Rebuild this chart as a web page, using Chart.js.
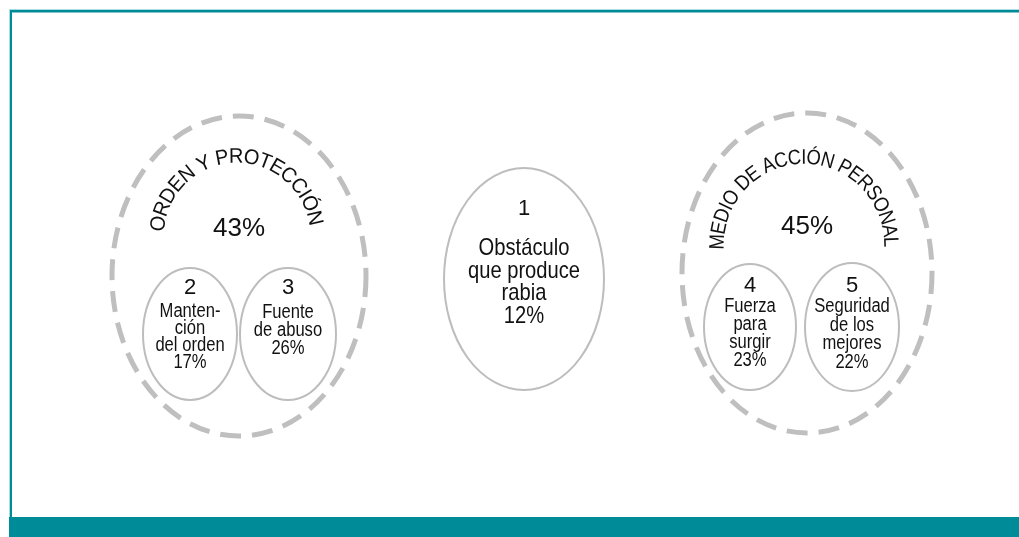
<!DOCTYPE html>
<html><head><meta charset="utf-8">
<script src="https://cdn.jsdelivr.net/npm/chart.js@4/dist/chart.umd.min.js"></script>
<style>html,body{margin:0;padding:0;background:#fff;overflow:hidden}#wrap{width:1019px;height:537px;position:relative}</style>
</head><body><div id="wrap"><canvas id="c"></canvas></div>
<script>
// ---- data ----
const groupNames = ['ORDEN Y PROTECCIÓN', 'MEDIO DE ACCIÓN PERSONAL'];
const groupValues = [43, 45];
const itemNumbers = ['1', '2', '3', '4', '5'];
const itemLabels = [
  ['Obstáculo', 'que produce', 'rabia'],
  ['Manten-', 'ción', 'del orden'],
  ['Fuente', 'de abuso'],
  ['Fuerza', 'para', 'surgir'],
  ['Seguridad', 'de los', 'mejores']
];
const itemValues = [12, 17, 26, 23, 22];

// ---- layout (diagram units) ----
const groupLayout = [
  {cx: 239, cy: 276, rx: 127, ry: 160, arc: {cx: 237, cy: 236, rx: 79, ry: 79, t0: -81, t1: 77, size: 21, sx: 0.95}, valueY: 236},
  {cx: 807, cy: 273, rx: 125, ry: 160, arc: {cx: 804, cy: 245, rx: 86, ry: 87, t0: -88, t1: 88, size: 21, sx: 0.88}, valueY: 234}
];
const itemLayout = [
  {cx: 524, cy: 279, rx: 80, ry: 111, numY: 215, numSize: 22, firstY: 255, lh: 22.5, size: 24, sx: 0.84},
  {cx: 190, cy: 334, rx: 47, ry: 66, numY: 294, numSize: 22, firstY: 317, lh: 17, size: 20, sx: 0.83},
  {cx: 288, cy: 334, rx: 48, ry: 66, numY: 294, numSize: 22, firstY: 318, lh: 18, size: 20, sx: 0.83},
  {cx: 750, cy: 327, rx: 46, ry: 63, numY: 292, numSize: 22, firstY: 312, lh: 18, size: 20, sx: 0.83},
  {cx: 852, cy: 327, rx: 47, ry: 64, numY: 292, numSize: 22, firstY: 312, lh: 18.7, size: 20, sx: 0.83}
];
const FONT = '"Liberation Sans", Arial, Helvetica, sans-serif';
const TEAL = '#008b99';

function txt(ctx, s, x, y, size, sx) {
  ctx.save();
  ctx.font = size + 'px ' + FONT;
  ctx.fillStyle = '#111';
  ctx.textAlign = 'center';
  ctx.textBaseline = 'alphabetic';
  ctx.translate(x, y);
  ctx.scale(sx, 1);
  ctx.fillText(s, 0, 0);
  ctx.restore();
}

function arcText(ctx, s, cx, cy, rx, ry, t0d, t1d, size, sxs) {
  ctx.save();
  ctx.font = size + 'px ' + FONT;
  ctx.fillStyle = '#111';
  ctx.textAlign = 'center';
  ctx.textBaseline = 'middle';
  const chars = [...s];
  const w = chars.map(c => ctx.measureText(c).width * sxs);
  const centers = []; let acc = 0;
  for (let i = 0; i < chars.length; i++) { centers.push(acc + w[i] / 2); acc += w[i]; }
  const span = centers[centers.length - 1] - centers[0];
  const t0 = t0d * Math.PI / 180, t1 = t1d * Math.PI / 180;
  const N = 2000; const lens = [0];
  const pt = t => [cx + rx * Math.sin(t), cy - ry * Math.cos(t)];
  let prev = pt(t0);
  for (let k = 1; k <= N; k++) {
    const p = pt(t0 + (t1 - t0) * k / N);
    lens.push(lens[k - 1] + Math.hypot(p[0] - prev[0], p[1] - prev[1]));
    prev = p;
  }
  const L = lens[N];
  let k = 0;
  for (let i = 0; i < chars.length; i++) {
    const target = (centers[i] - centers[0]) / span * L;
    while (k < N - 1 && lens[k + 1] < target) k++;
    const f = lens[k + 1] > lens[k] ? (target - lens[k]) / (lens[k + 1] - lens[k]) : 0;
    const t = t0 + (t1 - t0) * (k + Math.min(1, Math.max(0, f))) / N;
    if (chars[i] === ' ') continue;
    const p = pt(t);
    const ang = Math.atan2(ry * Math.sin(t), rx * Math.cos(t));
    ctx.save();
    ctx.translate(p[0], p[1]);
    ctx.rotate(ang);
    ctx.scale(sxs, 1);
    ctx.fillText(chars[i], 0, 0);
    ctx.restore();
  }
  ctx.restore();
}

const diagramPlugin = {
  id: 'diagram',
  beforeDraw(chart) {
    const ctx = chart.ctx;
    ctx.save();
    ctx.fillStyle = '#fff';
    ctx.fillRect(0, 0, chart.width, chart.height);
    ctx.fillStyle = '#a9dde1';
    ctx.fillRect(9, 9, 1010, 1);
    ctx.fillRect(9, 9, 1, 508);
    ctx.fillStyle = TEAL;
    ctx.fillRect(10, 10, 1009, 2.5);
    ctx.fillRect(10, 10, 2, 507);
    ctx.fillRect(9, 517, 1010, 20);
    ctx.restore();
  },
  afterDatasetsDraw(chart) {
    const ctx = chart.ctx, xs = chart.scales.x, ys = chart.scales.y;
    const pxW = (c, r) => Math.abs(xs.getPixelForValue(c + r) - xs.getPixelForValue(c));
    const pxH = (c, r) => Math.abs(ys.getPixelForValue(c + r) - ys.getPixelForValue(c));
    // groups
    chart.getDatasetMeta(0).data.forEach((el, i) => {
      const g = groupLayout[i];
      ctx.save();
      ctx.beginPath();
      ctx.setLineDash([21, 11]);
      ctx.lineWidth = 5;
      ctx.strokeStyle = '#bfbfbf';
      ctx.ellipse(el.x, el.y, pxW(g.cx, g.rx), pxH(g.cy, g.ry), 0, 0, Math.PI * 2);
      ctx.stroke();
      ctx.restore();
      const a = g.arc;
      arcText(ctx, groupNames[i], xs.getPixelForValue(a.cx), ys.getPixelForValue(a.cy),
        pxW(a.cx, a.rx), pxH(a.cy, a.ry), a.t0, a.t1, a.size, a.sx);
      txt(ctx, groupValues[i] + '%', el.x, ys.getPixelForValue(g.valueY), 26, 1);
    });
    // items
    chart.getDatasetMeta(1).data.forEach((el, i) => {
      const it = itemLayout[i];
      ctx.save();
      ctx.beginPath();
      ctx.lineWidth = 2;
      ctx.strokeStyle = '#bdbdbd';
      ctx.ellipse(el.x, el.y, pxW(it.cx, it.rx), pxH(it.cy, it.ry), 0, 0, Math.PI * 2);
      ctx.stroke();
      ctx.restore();
      txt(ctx, itemNumbers[i], el.x, ys.getPixelForValue(it.numY), it.numSize, 1);
      const lines = itemLabels[i].concat([itemValues[i] + '%']);
      lines.forEach((ln, j) => {
        txt(ctx, ln, el.x, ys.getPixelForValue(it.firstY + j * it.lh), it.size, it.sx);
      });
    });
  }
};

new Chart(document.getElementById('c'), {
  type: 'scatter',
  data: {
    datasets: [
      {label: 'grupos', data: groupLayout.map((g, i) => ({x: g.cx, y: g.cy, v: groupValues[i]})), pointRadius: 0},
      {label: 'motivos', data: itemLayout.map((g, i) => ({x: g.cx, y: g.cy, v: itemValues[i]})), pointRadius: 0}
    ]
  },
  options: {
    responsive: true,
    maintainAspectRatio: false,
    animation: false,
    layout: {padding: 0},
    plugins: {legend: {display: false}, tooltip: {enabled: false}},
    events: [],
    scales: {
      x: {type: 'linear', min: 0, max: 1019, display: false},
      y: {type: 'linear', min: 0, max: 537, reverse: true, display: false}
    }
  },
  plugins: [diagramPlugin]
});
</script></body></html>
